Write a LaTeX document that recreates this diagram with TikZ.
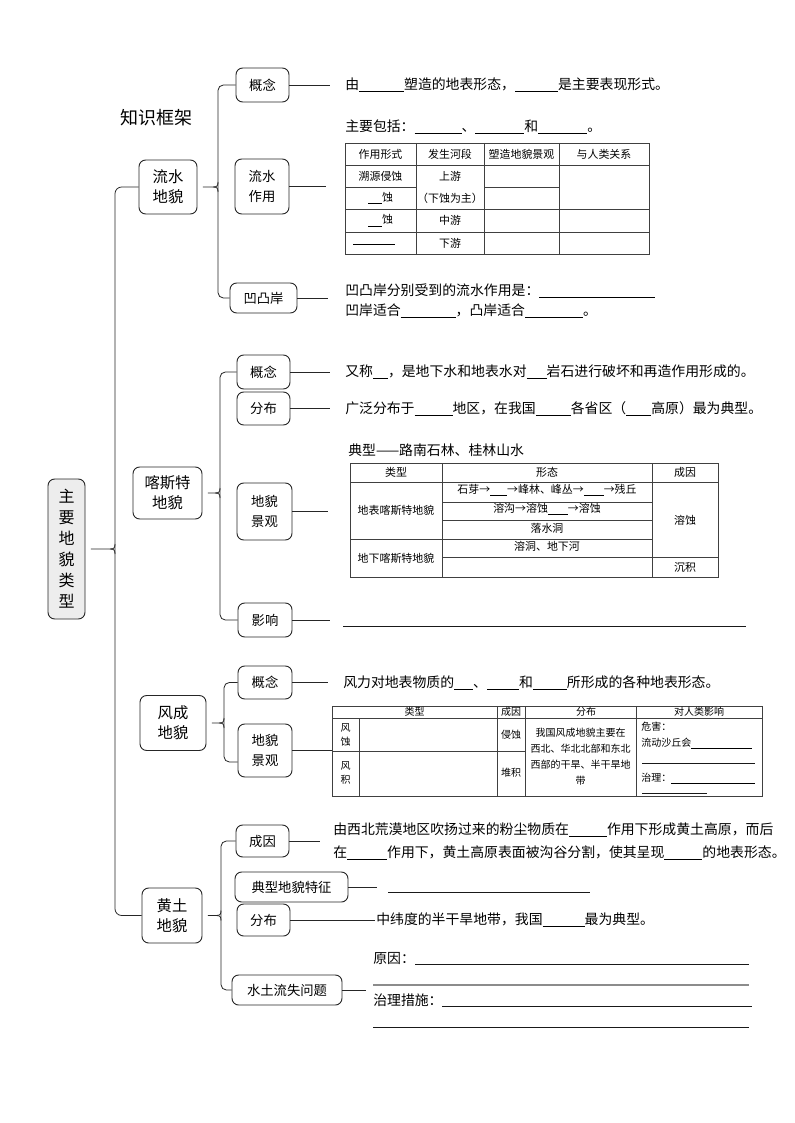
\documentclass[tikz,border=0pt]{standalone}
\usepackage{fontspec}
\setmainfont{Noto Sans CJK SC}
\usetikzlibrary{calc}
\newcommand\myfs[2]{\fontsize{#1pt}{#2pt}\selectfont}
\newcommand\bl[1]{\rule[-1.8pt]{\dimexpr #1pt*3/4\relax}{0.5pt}}
\newcommand\braceto[3]{%
  \draw[conn] ([xshift=4pt]#1.east) -- ({#2-5},#3) .. controls ({#2-1},#3) and (#2,{#3-1}) .. (#2,{#3-5});
  \draw[conn] ({#2-5},#3) .. controls ({#2-1},#3) and (#2,{#3+1}) .. (#2,{#3+5});}
\tikzset{
  conn/.style={line width=0.6pt, black!85},
  sz/.style 2 args={minimum width=#1*0.75pt, minimum height=#2*0.75pt},
  bx/.style={draw=black!85, line width=0.7pt, rounded corners=5pt, align=center, inner sep=0pt, font=\myfs{10}{15}},
  big/.style={bx, font=\myfs{11.5}{15}},
  txt/.style={anchor=west, inner sep=0pt, font=\myfs{10.4}{12}},
  tb/.style={line width=0.7pt, black!75},
  cell/.style={inner sep=0pt, font=\myfs{8.2}{10}, align=center},
  cellb/.style={inner sep=0pt, font=\myfs{7.5}{12}, align=center},
  uline/.style={line width=0.6pt, black!90}
}
\begin{document}
\begin{tikzpicture}[x=0.75pt,y=-0.75pt]
\useasboundingbox[fill=white] (0,0) rectangle (794,1123);

% title
\node[anchor=west, inner sep=0pt, font=\myfs{13.5}{16}] (title) at (120,118) {知识框架};

% main node
\node[bx, fill=black!7, sz={37}{140}, font=\myfs{12}{15.75}] (main) at (66.5,549) {主\\要\\地\\貌\\类\\型};

% level-1 nodes
\node[big, sz={58}{54}] (ls) at (168,187) {流水\\地貌};
\node[big, sz={69}{52}] (ks) at (167.5,493) {喀斯特\\地貌};
\node[big, sz={66}{55}] (fc) at (173,723) {风成\\地貌};
\node[big, sz={60}{55}] (ht) at (172,915.5) {黄土\\地貌};

% main brace
\draw[conn, rounded corners=5pt] (ls.west) -| (115,549) |- (ht.west);
\braceto{main}{115}{549}

% level-2 nodes
\node[bx, sz={53}{34}] (ls1) at (262.5,85) {概念};
\node[bx, sz={54}{55}] (ls2) at (262,186.5) {流水\\作用};
\node[bx, sz={67}{30}] (ls3) at (263.5,298) {凹凸岸};

\node[bx, sz={53}{34}] (ks1) at (263.5,372) {概念};
\node[bx, sz={53}{33}] (ks2) at (263.5,408.5) {分布};
\node[bx, sz={55}{57}] (ks3) at (264.5,511.5) {地貌\\景观};
\node[bx, sz={54}{34}] (ks4) at (265,620) {影响};

\node[bx, sz={54}{33}] (fc1) at (265,682.5) {概念};
\node[bx, sz={54}{53}] (fc2) at (265,750.5) {地貌\\景观};

\node[bx, sz={53}{32}] (ht1) at (262.5,841) {成因};
\node[bx, sz={113}{30}] (ht2) at (291.5,887) {典型地貌特征};
\node[bx, sz={53}{32}] (ht3) at (263.5,920) {分布};
\node[bx, sz={110}{30}] (ht4) at (287,990) {水土流失问题};

% sub braces
\draw[conn, rounded corners=4pt] (ls1.west) -| (218,187) |- (ls3.west);
\braceto{ls}{218}{187}
\draw[conn, rounded corners=4pt] (ks1.west) -| (220,493) |- (ks4.west);
\braceto{ks}{220}{493}
\draw[conn, rounded corners=4pt] (fc1.west) -| (224,723) |- ($(fc2.west)+(0,11.5)$);
\braceto{fc}{224}{723}
\draw[conn, rounded corners=4pt] (ht1.west) -| (221,915.5) |- (ht4.west);
\braceto{ht}{221}{915.5}

% free ends of connectors
\coordinate (e1) at (330,85);
\coordinate (e2) at (326,186.5);
\coordinate (e3) at (328,298);
\coordinate (e4) at (330,372);
\coordinate (e5) at (330,408.5);
\coordinate (e6) at (328,511.5);
\coordinate (e7) at (330,620);
\coordinate (e8) at (328,682.5);
\coordinate (e9) at (332,750.5);
\coordinate (e10) at (320,841);
\coordinate (e11) at (377,887);
\coordinate (e12) at (375,920);
\coordinate (e13) at (366,990);
\draw[conn] (ls1.east) -- (e1);
\draw[conn] (ls2.east) -- (e2);
\draw[conn] (ls3.east) -- (e3);
\draw[conn] (ks1.east) -- (e4);
\draw[conn] (ks2.east) -- (e5);
\draw[conn] (ks3.east) -- (e6);
\draw[conn] (ks4.east) -- (e7);
\draw[conn] (fc1.east) -- (e8);
\draw[conn] (fc2.east) -- (e9);
\draw[conn] (ht1.east) -- (e10);
\draw[conn] (ht2.east) -- (e11);
\draw[conn] (ht3.east) -- (e12);
\draw[conn] (ht4.east) -- (e13);

% ---------- 流水地貌 texts ----------
\node[txt] (t1) at (345,85) {由\bl{45}塑造的地表形态，\bl{43}是主要表现形式。};
\node[txt] (t2) at (345,127) {主要包括：\bl{47}、\bl{49}和\bl{49}。};
\node[txt] (t3) at (345,291) {凹凸岸分别受到的流水作用是：\bl{116}};
\node[txt] (t4) at (345,311) {凹岸适合\bl{55}，凸岸适合\bl{58}。};

% table 1
\draw[tb] (345,143) rectangle (649,254);
\draw[tb] (345,165) -- (649,165) (345,209) -- (649,209) (345,232) -- (649,232)
          (345,187) -- (416,187) (484,187) -- (559,187)
          (416,143) -- (416,254) (484,143) -- (484,254) (559,143) -- (559,254);
\node[cell] (a11) at (380.5,154) {作用形式};
\node[cell] (a12) at (450,154) {发生河段};
\node[cell] (a13) at (521.5,154) {塑造地貌景观};
\node[cell] (a14) at (604,154) {与人类关系};
\node[cell] (a21) at (380.5,176) {溯源侵蚀};
\node[cell] (a22) at (450,176) {上游};
\node[cell] (a32) at (450,198) {（下蚀为主）};
\node[cell] (a31) at (380.5,198) {\bl{14}蚀};
\node[cell] (a41) at (380.5,220.5) {\bl{14}蚀};
\node[cell] (a42) at (450,220.5) {中游};
\node[cell] (a51) at (374,243) {\bl{42}};
\node[cell] (a52) at (450,243) {下游};

% ---------- 喀斯特地貌 texts ----------
\node[txt] (k1) at (345,372) {又称\bl{15}，是地下水和地表水对\bl{20}岩石进行破坏和再造作用形成的。};
\node[txt] (k2) at (345,408.5) {广泛分布于\bl{38}地区，在我国\bl{35}各省区（\bl{25}高原）最为典型。};
\node[txt] (k3) at (348,450) {典型——路南石林、桂林山水};
\draw[uline] (343,626) -- (746,626);

% table 2
\draw[tb] (350,463) rectangle (718,577);
\draw[tb] (350,482) -- (718,482) (442,502) -- (652,502) (442,520) -- (652,520)
          (350,539) -- (652,539) (442,557) -- (718,557)
          (442,463) -- (442,577) (652,463) -- (652,577);
\node[cell] (b11) at (396,472) {类型};
\node[cell] (b12) at (547,472) {形态};
\node[cell] (b13) at (685,472) {成因};
\node[cell] (b21) at (396,510) {地表喀斯特地貌};
\node[cell] (b31) at (396,558) {地下喀斯特地貌};
\node[cell] (b23) at (685,520) {溶蚀};
\node[cell] (b33) at (685,567) {沉积};
\node[cell] (b22) at (547,490) {石芽→\bl{17}→峰林、峰丛→\bl{20}→残丘};
\node[cell] (b24) at (547,509) {溶沟→溶蚀\bl{20}→溶蚀};
\node[cell] (b25) at (547,528) {落水洞};
\node[cell] (b26) at (547,546) {溶洞、地下河};

% ---------- 风成地貌 texts ----------
\node[txt] (f1) at (343,682.5) {风力对地表物质的\bl{19}、\bl{32}和\bl{34}所形成的各种地表形态。};

% table 3
\draw[tb] (332,706) rectangle (762,796);
\draw[tb] (332,718) -- (762,718) (332,751) -- (525,751)
          (359,718) -- (359,796) (497,706) -- (497,796)
          (525,706) -- (525,796) (636,706) -- (636,796);
\node[cellb] (c11) at (414.5,712) {类型};
\node[cellb] (c12) at (511,712) {成因};
\node[cellb] (c13) at (586,712) {分布};
\node[cellb] (c14) at (699,712) {对人类影响};
\node[cellb, font=\myfs{7.5}{10.5}] (c21) at (345.5,734.5) {风\\蚀};
\node[cellb, font=\myfs{7.5}{10.5}] (c31) at (345.5,773) {风\\积};
\node[cellb] (c22) at (511,734.5) {侵蚀};
\node[cellb] (c32) at (511,773) {堆积};
\node[cellb] (c23) at (580.5,757) {我国风成地貌主要在\\西北、华北北部和东北\\西部的干旱、半干旱地\\带};
\node[cellb, anchor=west] (c24) at (641,727) {危害：};
\node[cellb, anchor=west] (c25) at (641,743) {流动沙丘会\bl{61}};
\draw[uline] (642,763) -- (755,763);
\node[cellb, anchor=west] (c26) at (641,778) {治理：\bl{84}};
\draw[uline] (642,793) -- (707,793);

% ---------- 黄土地貌 texts ----------
\node[txt] (h1) at (333,830) {由西北荒漠地区吹扬过来的粉尘物质在\bl{38}作用下形成黄土高原，而后};
\node[txt] (h2) at (333,853) {在\bl{40}作用下，黄土高原表面被沟谷分割，使其呈现\bl{38}的地表形态。};
\draw[uline] (388,892) -- (590,892);
\node[txt] (h4) at (376,920) {中纬度的半干旱地带，我国\bl{42}最为典型。};
\node[txt] (h5) at (373,958) {原因：};
\draw[uline] (415,964) -- (749,964);
\draw[line width=0.9pt, black!45] (373,985) -- (749,985);
\node[txt] (h6) at (373,1000) {治理措施：};
\draw[uline] (442,1006) -- (752,1006);
\draw[uline] (373,1027) -- (749,1027);
\end{tikzpicture}
\end{document}
